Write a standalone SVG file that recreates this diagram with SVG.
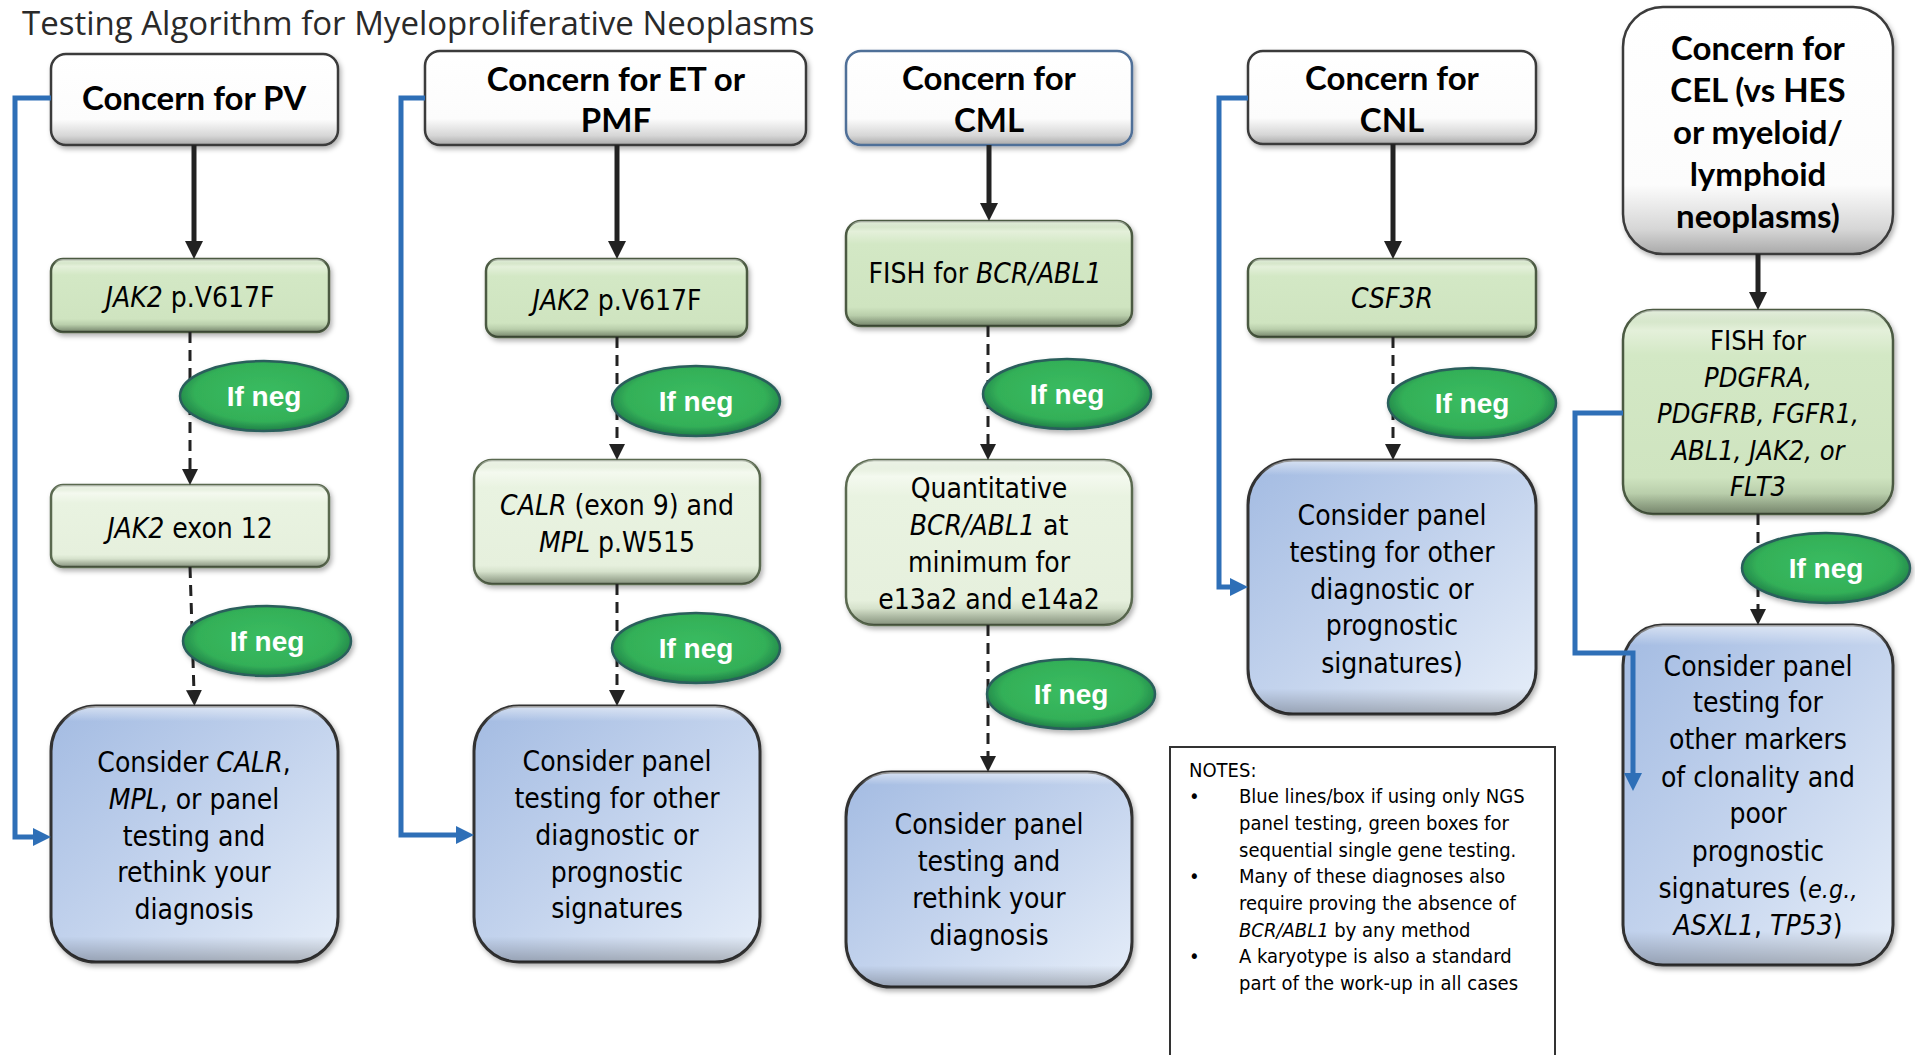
<svg xmlns="http://www.w3.org/2000/svg" width="1915" height="1055" viewBox="0 0 1915 1055">
<defs>
<style>
.title{font-family:"Open Sans","Liberation Sans",sans-serif;font-size:33px;fill:#2a2a2a}
.hdr{font-family:Lato,"Liberation Sans",sans-serif;font-weight:700;font-size:33px;text-anchor:middle;fill:#000}
.body{font-family:"DejaVu Sans Condensed","DejaVu Sans",sans-serif;font-stretch:condensed;font-size:28px;text-anchor:middle;fill:#000}
.note{font-family:"DejaVu Sans Condensed","DejaVu Sans",sans-serif;font-stretch:condensed;font-size:20px;fill:#000}
.neg{font-family:"Liberation Sans",Arial,sans-serif;font-weight:700;font-size:28px;text-anchor:middle;fill:#fff}
.i{font-style:italic}
.hbox{fill:url(#gHdr);stroke:#3a3a3a;stroke-width:2.5;filter:url(#sh)}
.gbox{fill:url(#gGreen);stroke:#4b5a42;stroke-width:2.5;filter:url(#sh)}
.lbox{fill:url(#gLight);stroke:#5a6950;stroke-width:2.5;filter:url(#sh)}
.bbox{fill:url(#gBlue);stroke:#333;stroke-width:3;filter:url(#sh)}
.bev{fill:url(#gBev);stroke:none}
.ell{fill:url(#gEll);stroke:#2b5e5c;stroke-width:2.5;filter:url(#sh)}
.solid{stroke:#222;stroke-width:5;fill:none;marker-end:url(#aBlack)}
.dash{stroke:#222;stroke-width:3;stroke-dasharray:11 7;fill:none;marker-end:url(#aDash)}
.blue{stroke:#2e6fb7;stroke-width:5;fill:none;marker-end:url(#aBlue)}
</style>
<filter id="sh" x="-10%" y="-10%" width="125%" height="125%">
<feDropShadow dx="2" dy="3" stdDeviation="2.5" flood-color="#000" flood-opacity="0.3"/>
</filter>
<linearGradient id="gHdr" x1="0" y1="0" x2="0" y2="1">
<stop offset="0" stop-color="#ffffff"/><stop offset="0.72" stop-color="#fcfcfc"/><stop offset="0.9" stop-color="#d6d6d6"/><stop offset="1" stop-color="#a9a9a9"/>
</linearGradient>
<linearGradient id="gGreen" x1="0" y1="0" x2="0" y2="1">
<stop offset="0" stop-color="#c4dab6"/><stop offset="0.1" stop-color="#e4f0da"/><stop offset="0.22" stop-color="#d3e8c5"/><stop offset="0.82" stop-color="#cfe4c0"/><stop offset="1" stop-color="#9db290"/>
</linearGradient>
<linearGradient id="gLight" x1="0" y1="0" x2="0" y2="1">
<stop offset="0" stop-color="#d9e6cf"/><stop offset="0.1" stop-color="#f4f9ef"/><stop offset="0.22" stop-color="#e9f3e1"/><stop offset="0.85" stop-color="#e6f0dd"/><stop offset="1" stop-color="#b4c4a8"/>
</linearGradient>
<linearGradient id="gBlue" x1="0" y1="0" x2="1" y2="1">
<stop offset="0" stop-color="#a3bbe2"/><stop offset="0.5" stop-color="#c3d3ed"/><stop offset="1" stop-color="#e6eef9"/>
</linearGradient>
<linearGradient id="gBev" x1="0" y1="0" x2="0" y2="1">
<stop offset="0" stop-color="#fff" stop-opacity="0.55"/><stop offset="0.06" stop-color="#fff" stop-opacity="0"/><stop offset="0.9" stop-color="#000" stop-opacity="0"/><stop offset="1" stop-color="#000" stop-opacity="0.25"/>
</linearGradient>
<radialGradient id="gEll" cx="0.5" cy="0.45" r="0.55">
<stop offset="0" stop-color="#3abc60"/><stop offset="0.75" stop-color="#33b058"/><stop offset="1" stop-color="#1f7d47"/>
</radialGradient>
<marker id="aBlack" viewBox="0 0 18 18" refX="4" refY="9" markerWidth="18" markerHeight="18" markerUnits="userSpaceOnUse" orient="auto"><path d="M0,0 L18,9 L0,18 z" fill="#222"/></marker>
<marker id="aDash" viewBox="0 0 16 16" refX="2" refY="8" markerWidth="16" markerHeight="16" markerUnits="userSpaceOnUse" orient="auto"><path d="M0,0 L16,8 L0,16 z" fill="#222"/></marker>
<marker id="aBlue" viewBox="0 0 18 18" refX="4" refY="9" markerWidth="18" markerHeight="18" markerUnits="userSpaceOnUse" orient="auto"><path d="M0,0 L18,9 L0,18 z" fill="#2e6fb7"/></marker>
</defs>
<rect width="1915" height="1055" fill="#fff"/>
<text class="title" x="22" y="35">Testing Algorithm for Myeloproliferative Neoplasms</text>

<g id="pv-head"><rect class="hbox" x="51" y="54" width="287" height="91" rx="15"/>
<text class="hdr" x="194" y="110">Concern for PV</text></g>
<g id="pv-jak2"><rect class="gbox" x="51" y="259" width="278" height="73" rx="12"/><rect class="bev" x="51" y="259" width="278" height="73" rx="12"/>
<text class="body" x="190" y="307"><tspan class="i">JAK2</tspan> p.V617F</text></g>
<g id="pv-exon12"><rect class="lbox" x="51" y="485" width="278" height="82" rx="12"/><rect class="bev" x="51" y="485" width="278" height="82" rx="12"/>
<text class="body" x="190" y="538"><tspan class="i">JAK2</tspan> exon 12</text></g>
<g id="pv-panel"><rect class="bbox" x="51" y="706" width="287" height="256" rx="45"/><rect class="bev" x="51" y="706" width="287" height="256" rx="45"/>
<text class="body" x="194"><tspan x="194" y="772">Consider <tspan class="i">CALR</tspan>,</tspan><tspan x="194" y="809"><tspan class="i">MPL</tspan>, or panel</tspan><tspan x="194" y="846">testing and</tspan><tspan x="194" y="882">rethink your</tspan><tspan x="194" y="919">diagnosis</tspan></text></g>

<g id="et-head"><rect class="hbox" x="425" y="51" width="381" height="94" rx="15"/>
<text class="hdr" x="616"><tspan x="616" y="91">Concern for ET or</tspan><tspan x="616" y="132">PMF</tspan></text></g>
<g id="et-jak2"><rect class="gbox" x="486" y="259" width="261" height="78" rx="12"/><rect class="bev" x="486" y="259" width="261" height="78" rx="12"/>
<text class="body" x="617" y="310"><tspan class="i">JAK2</tspan> p.V617F</text></g>
<g id="et-calr"><rect class="lbox" x="474" y="460" width="286" height="124" rx="18"/><rect class="bev" x="474" y="460" width="286" height="124" rx="18"/>
<text class="body" x="617"><tspan x="617" y="515"><tspan class="i">CALR</tspan> (exon 9) and</tspan><tspan x="617" y="552"><tspan class="i">MPL</tspan> p.W515</tspan></text></g>
<g id="et-panel"><rect class="bbox" x="474" y="706" width="286" height="256" rx="45"/><rect class="bev" x="474" y="706" width="286" height="256" rx="45"/>
<text class="body" x="617"><tspan x="617" y="771">Consider panel</tspan><tspan x="617" y="808">testing for other</tspan><tspan x="617" y="845">diagnostic or</tspan><tspan x="617" y="882">prognostic</tspan><tspan x="617" y="918">signatures</tspan></text></g>

<g id="cml-head"><rect class="hbox" x="846" y="51" width="286" height="94" rx="15" style="stroke:#4f6f98"/>
<text class="hdr" x="989"><tspan x="989" y="90">Concern for</tspan><tspan x="989" y="132">CML</tspan></text></g>
<g id="cml-fish"><rect class="gbox" x="846" y="221" width="286" height="105" rx="15"/><rect class="bev" x="846" y="221" width="286" height="105" rx="15"/>
<text class="body" x="985" y="283">FISH for <tspan class="i">BCR/ABL1</tspan></text></g>
<g id="cml-quant"><rect class="lbox" x="846" y="460" width="286" height="165" rx="28"/><rect class="bev" x="846" y="460" width="286" height="165" rx="28"/>
<text class="body" x="989"><tspan x="989" y="498">Quantitative</tspan><tspan x="989" y="535"><tspan class="i">BCR/ABL1</tspan> at</tspan><tspan x="989" y="572">minimum for</tspan><tspan x="989" y="609">e13a2 and e14a2</tspan></text></g>
<g id="cml-panel"><rect class="bbox" x="846" y="772" width="286" height="215" rx="45"/><rect class="bev" x="846" y="772" width="286" height="215" rx="45"/>
<text class="body" x="989"><tspan x="989" y="834">Consider panel</tspan><tspan x="989" y="871">testing and</tspan><tspan x="989" y="908">rethink your</tspan><tspan x="989" y="945">diagnosis</tspan></text></g>

<g id="cnl-head"><rect class="hbox" x="1248" y="51" width="288" height="93" rx="15"/>
<text class="hdr" x="1392"><tspan x="1392" y="90">Concern for</tspan><tspan x="1392" y="132">CNL</tspan></text></g>
<g id="cnl-csf3r"><rect class="gbox" x="1248" y="259" width="288" height="78" rx="12"/><rect class="bev" x="1248" y="259" width="288" height="78" rx="12"/>
<text class="body i" x="1392" y="308">CSF3R</text></g>
<g id="cnl-panel"><rect class="bbox" x="1248" y="460" width="288" height="254" rx="45"/><rect class="bev" x="1248" y="460" width="288" height="254" rx="45"/>
<text class="body" x="1392"><tspan x="1392" y="525">Consider panel</tspan><tspan x="1392" y="562">testing for other</tspan><tspan x="1392" y="599">diagnostic or</tspan><tspan x="1392" y="635">prognostic</tspan><tspan x="1392" y="673">signatures)</tspan></text></g>

<g id="notes"><rect x="1170" y="747" width="385" height="340" fill="#fff" stroke="#333" stroke-width="2"/>
<text class="note" x="1189" y="777">NOTES:</text>
<text class="note" x="1189" y="803">•</text><text class="note" x="1189" y="883">•</text><text class="note" x="1189" y="963">•</text>
<text class="note" x="1239"><tspan x="1239" y="803">Blue lines/box if using only NGS</tspan><tspan x="1239" y="830">panel testing, green boxes for</tspan><tspan x="1239" y="857">sequential single gene testing.</tspan><tspan x="1239" y="883">Many of these diagnoses also</tspan><tspan x="1239" y="910">require proving the absence of</tspan><tspan x="1239" y="937"><tspan class="i">BCR/ABL1</tspan> by any method</tspan><tspan x="1239" y="963">A karyotype is also a standard</tspan><tspan x="1239" y="990">part of the work-up in all cases</tspan></text></g>

<g id="cel-head"><rect class="hbox" x="1623" y="7" width="270" height="247" rx="40"/>
<text class="hdr" x="1758"><tspan x="1758" y="60">Concern for</tspan><tspan x="1758" y="102">CEL (vs HES</tspan><tspan x="1758" y="144">or myeloid/</tspan><tspan x="1758" y="186">lymphoid</tspan><tspan x="1758" y="228">neoplasms)</tspan></text></g>
<g id="cel-fish"><rect class="gbox" x="1623" y="310" width="270" height="204" rx="30"/><rect class="bev" x="1623" y="310" width="270" height="204" rx="30"/>
<text class="body" x="1758" style="font-size:27px"><tspan x="1758" y="350">FISH for</tspan><tspan x="1758" y="387" class="i">PDGFRA,</tspan><tspan x="1758" y="423" class="i">PDGFRB, FGFR1,</tspan><tspan x="1758" y="460" class="i">ABL1, JAK2, or</tspan><tspan x="1758" y="496" class="i">FLT3</tspan></text></g>
<g id="cel-panel"><rect class="bbox" x="1623" y="625" width="270" height="340" rx="40"/><rect class="bev" x="1623" y="625" width="270" height="340" rx="40"/>
<text class="body" x="1758"><tspan x="1758" y="676">Consider panel</tspan><tspan x="1758" y="712">testing for</tspan><tspan x="1758" y="749">other markers</tspan><tspan x="1758" y="787">of clonality and</tspan><tspan x="1758" y="823">poor</tspan><tspan x="1758" y="861">prognostic</tspan><tspan x="1758" y="898">signatures (<tspan class="i" style="font-size:25px">e.g.,</tspan></tspan><tspan x="1758" y="935"><tspan class="i">ASXL1</tspan>, <tspan class="i">TP53</tspan>)</tspan></text></g>

<g id="connectors">
<path class="blue" d="M51,98 H15 V837 H37"/>
<path class="blue" d="M425,98 H401 V835 H460"/>
<path class="blue" d="M1248,98 H1219 V587 H1234"/>
<path class="blue" d="M1623,413 H1575 V653 H1633 V777"/>
<path class="solid" d="M194,145 V245"/>
<path class="solid" d="M617,145 V245"/>
<path class="solid" d="M989,145 V207"/>
<path class="solid" d="M1393,144 V245"/>
<path class="solid" d="M1758,254 V296"/>
<path class="dash" d="M190,332 V471"/>
<path class="dash" d="M190,567 L194,692"/>
<path class="dash" d="M617,337 V446"/>
<path class="dash" d="M617,584 V692"/>
<path class="dash" d="M988,326 V446"/>
<path class="dash" d="M988,625 V758"/>
<path class="dash" d="M1393,337 V446"/>
<path class="dash" d="M1758,514 V611"/>
<g id="label-pv-1"><ellipse class="ell" cx="264" cy="396" rx="84" ry="35"/><text class="neg" x="264" y="406">If neg</text></g>
<g id="label-pv-2"><ellipse class="ell" cx="267" cy="641" rx="84" ry="35"/><text class="neg" x="267" y="651">If neg</text></g>
<g id="label-et-1"><ellipse class="ell" cx="696" cy="401" rx="84" ry="35"/><text class="neg" x="696" y="411">If neg</text></g>
<g id="label-et-2"><ellipse class="ell" cx="696" cy="648" rx="84" ry="35"/><text class="neg" x="696" y="658">If neg</text></g>
<g id="label-cml-1"><ellipse class="ell" cx="1067" cy="394" rx="84" ry="35"/><text class="neg" x="1067" y="404">If neg</text></g>
<g id="label-cml-2"><ellipse class="ell" cx="1071" cy="694" rx="84" ry="35"/><text class="neg" x="1071" y="704">If neg</text></g>
<g id="label-cnl-1"><ellipse class="ell" cx="1472" cy="403" rx="84" ry="35"/><text class="neg" x="1472" y="413">If neg</text></g>
<g id="label-cel-1"><ellipse class="ell" cx="1826" cy="568" rx="84" ry="35"/><text class="neg" x="1826" y="578">If neg</text></g>
</g>
</svg>
